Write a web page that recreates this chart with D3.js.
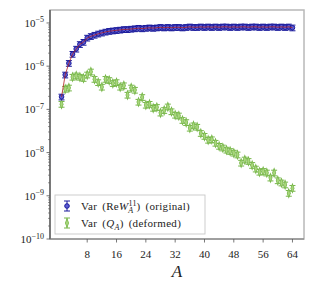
<!DOCTYPE html>
<html>
<head>
<meta charset="utf-8">
<script src="https://cdn.jsdelivr.net/npm/d3@7"></script>
<style>
  body { margin: 0; background: #fff; }
  text { font-family: "Liberation Serif", "DejaVu Serif", serif; fill: #222; }
</style>
</head>
<body>
<div id="chart"></div>
<script>
// data
var sizes = d3.range(1, 65);
var varOriginal = [1.95e-7, 6.3e-7, 1.17e-6, 1.9e-6, 2.5e-6, 3.2e-6, 3.6e-6, 4.5e-6, 4.9e-6, 5.25e-6,
    5.6e-6, 5.9e-6, 6.2e-6, 6.45e-6, 6.6e-6, 6.75e-6, 6.9e-6, 7.1e-6, 7.1e-6, 7.25e-6,
    7.4e-6, 7.6e-6, 7.4e-6, 7.6e-6, 7.75e-6, 7.6e-6, 7.75e-6, 7.95e-6, 7.75e-6, 7.95e-6,
    7.75e-6, 7.95e-6, 7.95e-6, 7.75e-6, 7.95e-6, 8.15e-6, 7.95e-6, 7.95e-6, 8.15e-6, 7.95e-6,
    8.15e-6, 7.95e-6, 8.15e-6, 7.95e-6, 8.15e-6, 8.15e-6, 7.95e-6, 8.15e-6, 7.95e-6, 8.15e-6,
    8.15e-6, 7.95e-6, 8.15e-6, 8.15e-6, 7.95e-6, 8.15e-6, 7.95e-6, 8.15e-6, 8.15e-6, 7.95e-6,
    8.15e-6, 7.95e-6, 8.15e-6, 7.75e-6];
var varDeformed = [1.32e-7, 2.95e-7, 3.15e-7, 5.6e-7, 6.0e-7, 5.6e-7, 5.25e-7, 6.3e-7, 7.4e-7, 5.0e-7,
    4.2e-7, 3.3e-7, 5.0e-7, 4.7e-7, 4.0e-7, 4.2e-7, 3.3e-7, 3.55e-7, 2.15e-7, 3.15e-7,
    2.8e-7, 1.48e-7, 1.9e-7, 1.26e-7, 1.32e-7, 1.07e-7, 1.12e-7, 8.3e-8, 9.5e-8, 1.15e-7,
    8.9e-8, 7.4e-8, 7.1e-8, 5.6e-8, 5.0e-8, 3.7e-8, 4.2e-8, 3.9e-8, 2.8e-8, 2.4e-8,
    1.95e-8, 2.0e-8, 1.66e-8, 1.41e-8, 1.29e-8, 1.15e-8, 1.07e-8, 9.8e-9, 8.9e-9, 5.75e-9,
    6.8e-9, 6.3e-9, 5.1e-9, 4.2e-9, 3.55e-9, 3.7e-9, 3.4e-9, 2.6e-9, 3.4e-9, 2.25e-9,
    2.0e-9, 1.8e-9, 1.15e-9, 1.5e-9];
var relErrOriginal = 0.15;
var relErrDeformed = 0.15;
var xTicks = [8, 16, 24, 32, 40, 48, 56, 64];
var yExponents = [-5, -6, -7, -8, -9, -10];

var W = 315, H = 290;
var padL = 50, padR = 304, padT = 10, padB = 239;
var blue = "#1a1a9c", blueFill = "#5c5cd2", green = "#76b648", greenFill = "#a8d67c";

var svg = d3.select('#chart').append('svg').attr("width", W).attr("height", H);

var x = d3.scaleLinear().domain([-2.15, 67.15]).range([padL, padR]);
var y = d3.scaleLog().domain([1e-10, Math.pow(10, -4.7)]).range([padB, padT]);

// frame
svg.append("rect").attr("x", padL).attr("y", padT).attr("width", padR - padL).attr("height", padB - padT)
    .attr("fill", "none").attr("stroke", "#b8b8b8").attr("stroke-width", 1.5);
svg.append("line").attr("x1", padL).attr("x2", padL).attr("y1", padT).attr("y2", padB)
    .attr("stroke", "#444").attr("stroke-width", 1.2);
svg.append("line").attr("x1", padL).attr("x2", padR).attr("y1", padB).attr("y2", padB)
    .attr("stroke", "#777").attr("stroke-width", 1.2);

// y ticks (log, with minor ticks)
var minor = [];
for (var e = -10; e < -4; e++) {
    for (var m = 2; m <= 9; m++) {
        var v = m * Math.pow(10, e);
        if (v <= y.domain()[1]) minor.push(v);
    }
}
svg.selectAll(".ymin").data(minor).enter().append("line")
    .attr("x1", padL - 2).attr("x2", padL)
    .attr("y1", function (d) { return y(d); }).attr("y2", function (d) { return y(d); })
    .attr("stroke", "#555").attr("stroke-width", 0.6);
svg.selectAll(".ymaj").data(yExponents).enter().append("line")
    .attr("x1", padL - 3.5).attr("x2", padL)
    .attr("y1", function (d) { return y(Math.pow(10, d)); }).attr("y2", function (d) { return y(Math.pow(10, d)); })
    .attr("stroke", "#555").attr("stroke-width", 0.8);
var ylab = svg.selectAll(".ylab").data(yExponents).enter().append("text")
    .attr("x", padL - 6).attr("y", function (d) { return y(Math.pow(10, d)) + 4; })
    .attr("text-anchor", "end").style("font-size", "11px");
ylab.append("tspan").text("10");
ylab.append("tspan").attr("dy", -4.5).style("font-size", "8px").text(function (d) { return "\u2212" + (-d); });

// x ticks
var xAxis = svg.append("g");
xAxis.selectAll("line").data(xTicks).enter().append("line")
    .attr("x1", function (d) { return x(d); }).attr("x2", function (d) { return x(d); })
    .attr("y1", padB).attr("y2", padB + 3.5)
    .attr("stroke", "#555").attr("stroke-width", 0.8);
xAxis.selectAll("text").data(xTicks).enter().append("text")
    .attr("x", function (d) { return x(d); }).attr("y", 258)
    .attr("text-anchor", "middle").style("font-size", "11px")
    .text(function (d) { return d; });
svg.append("text").attr("x", x(32.5)).attr("y", 277).attr("text-anchor", "middle")
    .style("font-size", "17px").style("font-style", "italic").text("A");

// draw a series with error bars
function errorbars(vals, rel, color) {
    var g = svg.append("g");
    var pts = sizes.map(function (a, i) { return { a: a, v: vals[i] }; });
    g.selectAll("line.v").data(pts).enter().append("line").attr("class", "v")
        .attr("x1", function (d) { return x(d.a); }).attr("x2", function (d) { return x(d.a); })
        .attr("y1", function (d) { return y(d.v * (1 - rel)); }).attr("y2", function (d) { return y(d.v * (1 + rel)); })
        .attr("stroke", color).attr("stroke-width", 1);
    [1 - rel, 1 + rel].forEach(function (f, k) {
        g.selectAll("line.cap" + k).data(pts).enter().append("line").attr("class", "cap" + k)
            .attr("x1", function (d) { return x(d.a) - 3; }).attr("x2", function (d) { return x(d.a) + 3; })
            .attr("y1", function (d) { return y(d.v * f); }).attr("y2", function (d) { return y(d.v * f); })
            .attr("stroke", color).attr("stroke-width", 1);
    });
    return { g: g, pts: pts };
}

var gr = errorbars(varDeformed, relErrDeformed, green);
gr.g.selectAll("path.m").data(gr.pts).enter().append("path").attr("class", "m")
    .attr("d", d3.symbol().type(d3.symbolDiamond).size(16))
    .attr("transform", function (d) { return "translate(" + x(d.a) + "," + y(d.v) + ") scale(0.75,1.2)"; })
    .attr("fill", greenFill).attr("stroke", green).attr("stroke-width", 0.9);

var bl = errorbars(varOriginal, relErrOriginal, blue);
bl.g.selectAll("circle").data(bl.pts).enter().append("circle")
    .attr("cx", function (d) { return x(d.a); }).attr("cy", function (d) { return y(d.v); })
    .attr("r", 2.3).attr("fill", blueFill).attr("stroke", blue).attr("stroke-width", 1);

svg.append("path").datum(bl.pts)
    .attr("d", d3.line().x(function (d) { return x(d.a); }).y(function (d) { return y(d.v); }))
    .attr("fill", "none").attr("stroke", "#b02020").attr("stroke-width", 0.8);

// legend
var lg = svg.append("g");
lg.append("rect").attr("x", 55).attr("y", 195).attr("width", 150).attr("height", 39)
    .attr("fill", "#fff").attr("stroke", "#c8c8c8").attr("stroke-width", 0.9);
function legendMarker(cy, color, fill, diamond) {
    lg.append("line").attr("x1", 67).attr("x2", 67).attr("y1", cy - 5).attr("y2", cy + 5).attr("stroke", color);
    lg.append("line").attr("x1", 64).attr("x2", 70).attr("y1", cy - 5).attr("y2", cy - 5).attr("stroke", color);
    lg.append("line").attr("x1", 64).attr("x2", 70).attr("y1", cy + 5).attr("y2", cy + 5).attr("stroke", color);
    if (diamond) {
        lg.append("path").attr("d", d3.symbol().type(d3.symbolDiamond).size(16))
            .attr("transform", "translate(67," + cy + ") scale(0.75,1.2)")
            .attr("fill", fill).attr("stroke", color).attr("stroke-width", 0.9);
    } else {
        lg.append("circle").attr("cx", 67).attr("cy", cy).attr("r", 2.3)
            .attr("fill", fill).attr("stroke", color).attr("stroke-width", 1);
    }
}
legendMarker(206, blue, blueFill, false);
legendMarker(223, green, greenFill, true);

var t1 = lg.append("text").attr("x", 81).attr("y", 210).style("font-size", "11px")
    .style("letter-spacing", "0.3px").style("word-spacing", "2px");
t1.append("tspan").text("Var (Re");
t1.append("tspan").style("font-style", "italic").text("W");
t1.append("tspan").attr("dy", -4.5).style("font-size", "8px").text("11");
t1.append("tspan").attr("dx", -8.5).attr("dy", 7.5).style("font-size", "8px").style("font-style", "italic").text("A");
t1.append("tspan").attr("dx", 3).attr("dy", -3).text(") (original)");

var t2 = lg.append("text").attr("x", 81).attr("y", 227).style("font-size", "11px")
    .style("letter-spacing", "0.3px").style("word-spacing", "2px");
t2.append("tspan").text("Var (");
t2.append("tspan").style("font-style", "italic").text("Q");
t2.append("tspan").attr("dy", 3).style("font-size", "8px").style("font-style", "italic").text("A");
t2.append("tspan").attr("dy", -3).text(") (deformed)");
</script>
</body>
</html>
